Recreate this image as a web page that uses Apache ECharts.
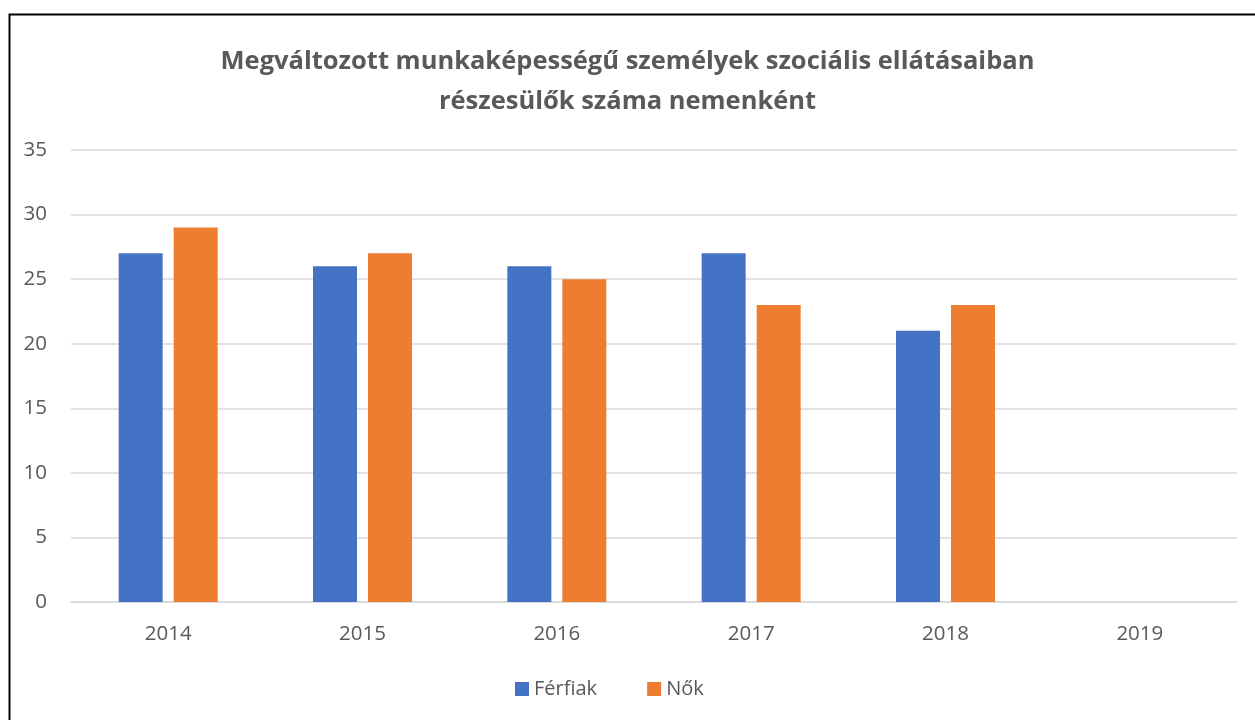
<!DOCTYPE html>
<html lang="hu">
<head>
    <meta charset="UTF-8">
    <title>Megváltozott munkaképességű személyek</title>
    <script src="https://cdn.jsdelivr.net/npm/echarts@6/dist/echarts.min.js"></script>
    <style>
        html, body { margin: 0; padding: 0; background: #fff; }
        #chart { width: 1255px; height: 720px; }
    </style>
</head>
<body>
    <div id="chart"></div>
    <script type="text/javascript">
        var years = ['2014', '2015', '2016', '2017', '2018', '2019'];
        var ferfiak = [27, 26, 26, 27, 21, null];
        var nok = [29, 27, 25, 23, 23, null];

        var myChart = echarts.init(document.getElementById('chart'));
        var txt = '#595959';
        var font = '"Open Sans", "Noto Sans", sans-serif';

        myChart.setOption({
            animation: false,
            textStyle: { fontFamily: font },
            title: {
                text: 'Megváltozott munkaképességű személyek szociális ellátásaiban\nrészesülők száma nemenként',
                left: 'center',
                top: 37,
                textStyle: {
                    color: txt,
                    fontFamily: font,
                    fontSize: 25.5,
                    fontWeight: 'bold',
                    lineHeight: 40
                }
            },
            legend: {
                bottom: 16,
                left: 510,
                itemWidth: 14,
                itemHeight: 14,
                itemGap: 50,
                icon: 'rect',
                textStyle: { color: txt, fontSize: 20, fontFamily: font },
                data: ['Férfiak', 'Nők']
            },
            grid: { left: 71, right: 18, top: 150, bottom: 118 },
            xAxis: {
                type: 'category',
                data: years,
                axisLine: { lineStyle: { color: '#d9d9d9', width: 1.5 } },
                axisTick: { show: false },
                axisLabel: { color: txt, fontSize: 20.5, margin: 22 }
            },
            yAxis: {
                type: 'value',
                min: 0,
                max: 35,
                interval: 5,
                axisLine: { show: false },
                axisTick: { show: false },
                axisLabel: { color: txt, fontSize: 20.5, margin: 24 },
                splitLine: { lineStyle: { color: '#d9d9d9', width: 1.5 } }
            },
            series: [
                {
                    name: 'Férfiak',
                    type: 'bar',
                    data: ferfiak,
                    barWidth: 44,
                    barGap: '25%',
                    itemStyle: { color: '#4472c4' }
                },
                {
                    name: 'Nők',
                    type: 'bar',
                    data: nok,
                    barWidth: 44,
                    itemStyle: { color: '#ed7d31' }
                }
            ],
            graphic: [
                {
                    type: 'rect',
                    left: 7,
                    top: 12,
                    shape: { width: 1270, height: 730 },
                    style: { fill: null, stroke: '#000', lineWidth: 2 },
                    silent: true
                }
            ]
        });
    </script>
</body>
</html>
